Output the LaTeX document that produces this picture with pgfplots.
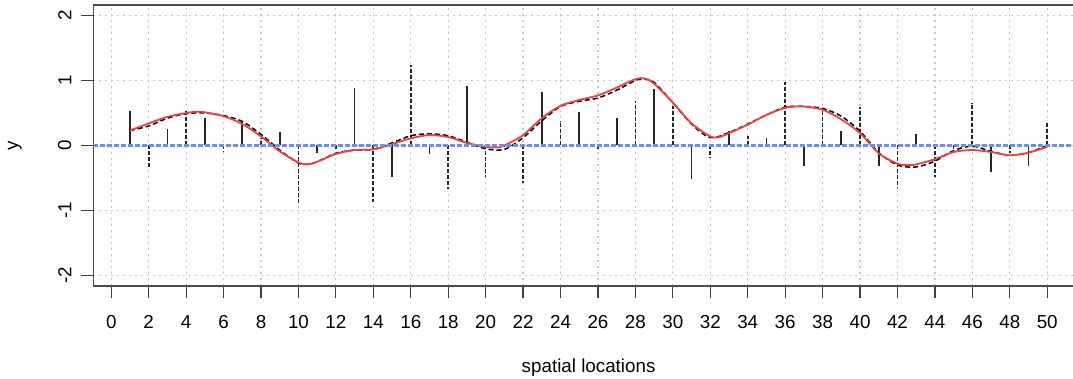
\documentclass[border=0pt]{standalone}
\usepackage{pgfplots}
\pgfplotsset{compat=1.18}
\usepackage{fontspec}
\setmainfont{Liberation Sans}
\definecolor{gridgray}{RGB}{200,200,200}
\definecolor{zeroblue}{RGB}{105,145,232}
\definecolor{fitred}{RGB}{238,64,64}
\begin{document}
\begin{tikzpicture}
\begin{axis}[
  at={(46.65pt,46.5pt)}, anchor=south west,
  scale only axis, width=495.3pt, height=140.5pt,
  xmin=-0.96, xmax=51.96, ymin=-2.16, ymax=2.16,
  xtick={0,2,...,50}, ytick={-2,-1,0,1,2},
  yticklabels={-2,-1,0,1,2},
  /pgf/number format/assume math mode=true,
  tick pos=left, tick align=outside, major tick length=6pt,
  tick style={black!75, line width=0.6pt},
  axis line style={black!70, line width=0.7pt},
  grid=major, major grid style={gridgray, line width=0.6pt, dash pattern=on 1pt off 2pt},
  font=\fontsize{9.4}{11}\selectfont,
  xticklabel style={anchor=north, inner sep=0pt},
  xticklabel shift=8.5pt,
  yticklabel style={rotate=90, anchor=south, inner sep=0pt},
  yticklabel shift=4.8pt,
  xlabel={spatial locations}, ylabel={y},
  every axis x label/.style={at={([yshift=-41pt]axis description cs:0.5,0)}, anchor=center},
  every axis y label/.style={at={([xshift=-39.2pt]axis description cs:0,0.5)}, rotate=90, anchor=center},
]
% odd locations: solid spikes
\addplot[ycomb, no marks, black!85, line width=0.85pt] coordinates {
(1,0.53) (3,0.26) (5,0.42) (7,0.38) (9,0.21)
(11,-0.11) (13,0.88) (15,-0.49) (17,-0.13) (19,0.91)
(21,-0.03) (23,0.82) (25,0.52) (27,0.43) (29,0.87)
(31,-0.51) (33,0.23) (35,0.11) (37,-0.31) (39,0.23)
(41,-0.32) (43,0.18) (45,-0.06) (47,-0.40) (49,-0.32)
};
% even locations: spikes broken by the dotted grid
\addplot[ycomb, no marks, black!85, line width=0.85pt, dash pattern=on 2pt off 1pt] coordinates {
(2,-0.36) (4,0.53) (6,-0.10) (8,0.12) (10,-0.88)
(12,-0.05) (14,-0.87) (16,1.23) (18,-0.67) (20,-0.48)
(22,-0.57) (24,0.38) (26,-0.08) (28,0.69) (30,0.60)
(32,-0.19) (34,0.14) (36,0.97) (38,0.55) (40,0.59)
(42,-0.66) (44,-0.48) (46,0.66) (48,-0.12) (50,0.36)
};
\addplot[no marks, black, line width=0.75pt, dash pattern=on 2.5pt off 1.5pt, smooth, tension=0.5] coordinates {
(1,0.23) (2,0.30) (3,0.42) (4,0.49) (5,0.50) (6,0.46) (7,0.37) (8,0.17) (9,-0.07) (10,-0.27)
(10.5,-0.29) (11,-0.25) (12,-0.12) (13,-0.07) (14,-0.06) (15,0.04) (16,0.15) (17,0.18) (18,0.15) (19,0.05)
(20,-0.05) (21,-0.06) (22,0.12) (23,0.38) (24,0.60) (25,0.68) (26,0.73) (27,0.85) (28,1.00) (28.5,1.02)
(29,0.97) (30,0.66) (31,0.33) (32,0.12) (33,0.20) (34,0.33) (35,0.47) (36,0.59) (37,0.60) (38,0.57)
(39,0.45) (40,0.22) (41,-0.11) (42,-0.30) (43,-0.33) (44,-0.24) (45,-0.08) (46,-0.01) (47,-0.09) (48,-0.15)
(49,-0.11) (50,0.00)
};
\addplot[no marks, fitred, line width=0.9pt, smooth, tension=0.5] coordinates {
(1,0.23) (2,0.34) (3,0.44) (4,0.50) (4.6,0.52) (5,0.51) (6,0.45) (7,0.33) (8,0.14) (9,-0.09)
(10,-0.26) (10.5,-0.29) (11,-0.25) (12,-0.13) (13,-0.07) (14,-0.06) (15,0.02) (16,0.11) (17,0.16) (18,0.13)
(19,0.04) (20,-0.02) (20.6,-0.03) (21,0.00) (22,0.16) (23,0.42) (24,0.61) (25,0.70) (26,0.77) (27,0.89)
(28,1.02) (28.5,1.03) (29,0.95) (30,0.66) (31,0.34) (32,0.14) (32.5,0.13) (33,0.19) (34,0.32) (35,0.47)
(36,0.58) (36.6,0.60) (37,0.60) (38,0.55) (39,0.40) (40,0.19) (41,-0.12) (42,-0.28) (42.6,-0.30) (43,-0.29)
(44,-0.21) (45,-0.10) (46,-0.07) (47,-0.10) (48,-0.15) (49,-0.11) (50,-0.02)
};
% zero line
\addplot[no marks, color=zeroblue, solid, line width=1.1pt, dash pattern=on 2.5pt off 1pt] table {
x y
-0.96 0
51.96 0
};
\end{axis}
\pgfresetboundingbox
\useasboundingbox (0,0) rectangle (536.5pt,189.5pt);
\end{tikzpicture}
\end{document}
